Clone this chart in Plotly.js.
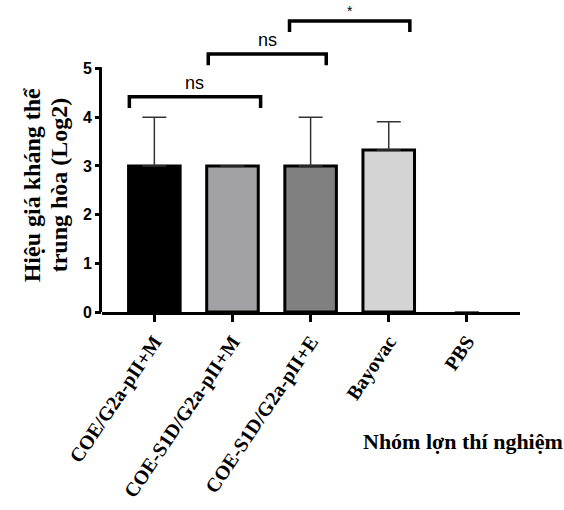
<!DOCTYPE html>
<html>
<head>
<meta charset="utf-8">
<script src="https://cdn.plot.ly/plotly-3.0.1.min.js"></script>
<style>html,body{margin:0;padding:0;background:#fff;}#chart{width:564px;height:510px;}</style>
</head>
<body>
<div id="chart"></div>
<script>
var categories = ["COE/G2a-pII+M", "COE-S1D/G2a-pII+M", "COE-S1D/G2a-pII+E", "Bayovac", "PBS"];
var values = [3, 3, 3, 3.33, 0];
var errorsUp = [1, 0, 1, 0.58, 0];
var barColors = ["#000000", "#a2a2a6", "#808080", "#d4d4d4", "#ffffff"];
var yTicks = [0, 1, 2, 3, 4, 5];

// significance comparisons: [start, end] in category index units, bracket top, label
var cmpStart = [-0.32, 0.69, 1.73];
var cmpEnd = [1.36, 2.2, 3.27];
var cmpTop = [4.42, 5.3, 5.98];
var cmpLabels = ["ns", "ns", "*"];

var idx = categories.map(function (c, i) { return i; });
var traces = [{
  type: "bar",
  x: idx,
  y: values,
  width: 0.66,
  marker: { color: barColors, line: { color: "#000", width: values.map(function (v) { return v > 0 ? 3 : 0; }) } },
  error_y: { type: "data", symmetric: false, array: errorsUp, arrayminus: values.map(function () { return 0; }),
             color: "#333", thickness: 1.5, width: 12 },
  hoverinfo: "none",
  showlegend: false
}];
var annotations = [];
var legDrop = 0.23;
for (var k = 0; k < cmpLabels.length; k++) {
  traces.push({
    type: "scatter", mode: "lines",
    x: [cmpStart[k], cmpStart[k], cmpEnd[k], cmpEnd[k]],
    y: [cmpTop[k] - legDrop, cmpTop[k], cmpTop[k], cmpTop[k] - legDrop],
    line: { color: "#000", width: 3.5 },
    showlegend: false, hoverinfo: "none"
  });
  annotations.push({
    x: (cmpStart[k] + cmpEnd[k]) / 2, y: cmpTop[k], xref: "x", yref: "y",
    text: cmpLabels[k], showarrow: false, yanchor: "bottom", yshift: cmpLabels[k] === "*" ? 0 : 2,
    font: { family: "Liberation Sans, Arial", size: cmpLabels[k] === "*" ? 14 : 18, color: "#000" }
  });
}
annotations.push({
  xref: "paper", yref: "paper", x: 1.107, y: -0.415, xanchor: "right", yanchor: "middle",
  text: "<b>Nhóm lợn thí nghiệm</b>", showarrow: false,
  font: { family: "Liberation Serif, Times New Roman", size: 22, color: "#000" }
});
var yTitleLines = ["Hiệu giá kháng thể", "trung hòa (Log2)"];
var yTitleX = [32, 59];
yTitleLines.forEach(function (t, i) {
  annotations.push({
    xref: "paper", yref: "y", x: 0, xshift: yTitleX[i] - 102, y: 2.5, yshift: 5,
    xanchor: "center", yanchor: "middle", textangle: -90,
    text: "<b>" + t + "</b>", showarrow: false,
    font: { family: "Liberation Serif, Times New Roman", size: 24, color: "#000" }
  });
});

var layout = {
  width: 564, height: 510,
  margin: { l: 102, r: 44, t: 0, b: 198 },
  paper_bgcolor: "#fff", plot_bgcolor: "#fff",
  xaxis: {
    range: [-0.67, 4.68],
    tickvals: idx, ticktext: categories.map(function (c) { return "<b>" + c + "</b>"; }),
    tickangle: -56,
    tickfont: { family: "Liberation Serif, Times New Roman", size: 20, color: "#000" },
    ticks: "outside", ticklen: 7, tickwidth: 3, tickcolor: "#000",
    showline: true, linecolor: "#000", linewidth: 3,
    showgrid: false, zeroline: false, fixedrange: true
  },
  yaxis: {
    range: [0, 6.41],
    tickvals: yTicks,
    ticktext: yTicks.map(function (v) { return "<b>" + v + "</b>"; }),
    tickfont: { family: "Liberation Sans, Arial", size: 16, color: "#000" },
    ticks: "outside", ticklen: 6, tickwidth: 3, tickcolor: "#000",
    showline: false,
    showgrid: false, zeroline: false, fixedrange: true
  },
  shapes: [{ type: "line", xref: "paper", yref: "y", x0: -0.0036, x1: -0.0036, y0: -0.03, y1: yTicks[yTicks.length - 1] + 0.03,
    line: { color: "#000", width: 3 } }],
  annotations: annotations
};
Plotly.newPlot("chart", traces, layout, { displayModeBar: false, staticPlot: true });
</script>
</body>
</html>
